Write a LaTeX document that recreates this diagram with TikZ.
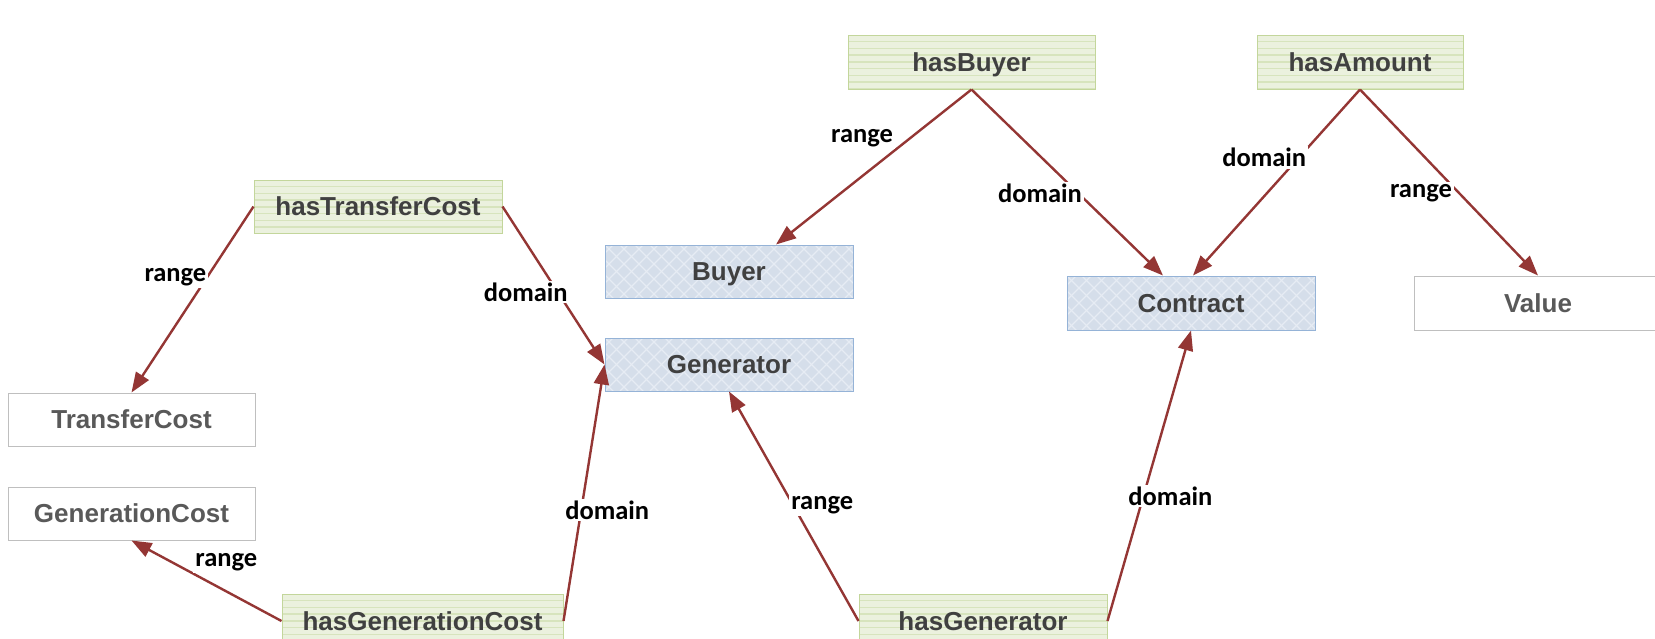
\documentclass[tikz,border=0pt]{standalone}
\usepackage{fontspec}
\setmainfont{Liberation Sans}
\newfontfamily\lblfont{Carlito}
\usetikzlibrary{arrows.meta,calc}
\definecolor{gfill}{HTML}{EBF1DE}
\definecolor{gstripe}{HTML}{D7E4BD}
\definecolor{gborder}{HTML}{C3D69B}
\definecolor{bfill}{HTML}{D5DEEA}
\definecolor{bhatch}{HTML}{E6ECF4}
\definecolor{bborder}{HTML}{95B3D7}
\definecolor{wborder}{HTML}{BFBFBF}
\definecolor{dtext}{HTML}{404040}
\definecolor{gtext}{HTML}{595959}
\definecolor{arrowred}{HTML}{943634}
\tikzset{
  box/.style={rectangle, minimum width=248pt, minimum height=53pt, inner sep=0pt,
    font=\fontsize{26}{30}\selectfont\bfseries, line width=1pt,
    text height=18.6pt, text depth=0pt},
  propbox/.style={box, draw=gborder, fill=gfill, text=dtext,
    path picture={
      \foreach \k in {1,...,10}
        \draw[gstripe, line width=1.4pt]
          ([yshift=-\k*6.7pt]path picture bounding box.north west) --
          ([yshift=-\k*6.7pt]path picture bounding box.north east);
    }},
  classbox/.style={box, draw=bborder, fill=bfill, text=dtext,
    path picture={
      \foreach \k in {-5,...,18} {
        \draw[bhatch, line width=1.2pt]
          ([xshift=\k*15pt]path picture bounding box.south west) -- ++(70pt,70pt);
        \draw[bhatch, line width=1.2pt]
          ([xshift=\k*15pt]path picture bounding box.north west) -- ++(70pt,-70pt);
      }
    }},
  valbox/.style={box, draw=wborder, fill=white, text=gtext},
  rel/.style={draw=arrowred, line width=2.4pt,
    -{Triangle[length=20pt,width=15pt]}},
  lbl/.style={fill=white, text=black, inner sep=2pt,
    font=\lblfont\fontsize{26.5}{30}\selectfont\bfseries}
}
\begin{document}
\begin{tikzpicture}[x=1pt,y=-1pt]
\clip (0,0) rectangle (1655,638);
\fill[white] (0,0) rectangle (1655,638);

% property nodes
\node[propbox, minimum width=247pt, minimum height=54pt] (hasBuyer) at (971.5,62) {hasBuyer};
\node[propbox, minimum width=206pt, minimum height=54pt] (hasAmount) at (1360,62) {hasAmount};
\node[propbox] (hasTransferCost) at (378,206.5) {hasTransferCost};
\node[propbox, minimum width=281pt, minimum height=54pt] (hasGenerationCost) at (422.5,621) {hasGenerationCost};
\node[propbox, minimum height=54pt] (hasGenerator) at (983,621) {hasGenerator};

% class nodes
\node[classbox] (Buyer) at (729,271.5) {Buyer};
\node[classbox] (Generator) at (729,364.5) {Generator};
\node[classbox, minimum height=54pt] (Contract) at (1191,303) {Contract};

% value nodes
\node[valbox, minimum height=54pt] (Value) at (1538,303) {Value};
\node[valbox, minimum width=247pt] (TransferCost) at (131.5,419.5) {TransferCost};
\node[valbox, minimum width=247pt] (GenerationCost) at (131.5,513.5) {GenerationCost};

% connectors
\draw[rel] (hasBuyer.south) -- ($(Buyer.north)+(47,0)$)
  node[lbl, pos=0.314, xshift=-48pt] {range};
\draw[rel] (hasBuyer.south) -- ($(Contract.north)+(-28,0)$)
  node[lbl, pos=0.556, xshift=-38pt] {domain};
\draw[rel] (hasAmount.south) -- ($(Contract.north)+(2,0)$)
  node[lbl, pos=0.364, xshift=-35pt] {domain};
\draw[rel] (hasAmount.south) -- (Value.north)
  node[lbl, pos=0.556, xshift=-38pt] {range};
\draw[rel] (hasTransferCost.west) -- (TransferCost.north)
  node[lbl, pos=0.378, xshift=-32pt] {range};
\draw[rel] (hasTransferCost.east) -- (Generator.west)
  node[lbl, pos=0.541, xshift=-32pt] {domain};
\draw[rel] (hasGenerationCost.west) -- (GenerationCost.south)
  node[lbl, pos=0.728, xshift=54pt] {range};
\draw[rel] (hasGenerationCost.east) -- (Generator.west)
  node[lbl, pos=0.433, xshift=26pt] {domain};
\draw[rel] (hasGenerator.west) -- (Generator.south)
  node[lbl, pos=0.504, xshift=29pt] {range};
\draw[rel] (hasGenerator.east) -- (Contract.south)
  node[lbl, pos=0.43, xshift=27pt] {domain};
\end{tikzpicture}
\end{document}
